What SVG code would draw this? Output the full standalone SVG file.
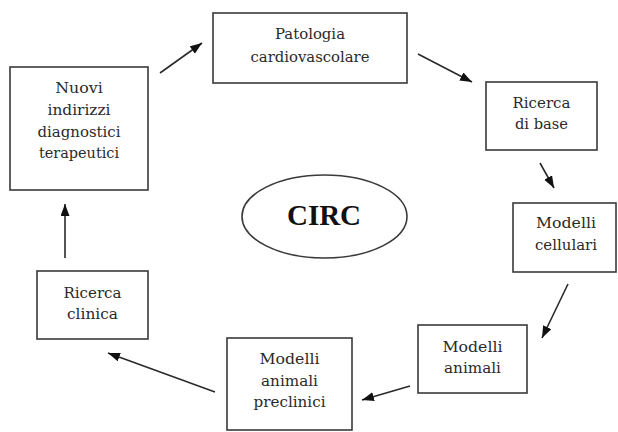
<svg xmlns="http://www.w3.org/2000/svg" width="618" height="432" viewBox="0 0 618 432">
<style>
.box{fill:#fff;stroke:#3a3a3a;stroke-width:1.6}
.c{stroke:#2a2a2a;stroke-width:1.6;fill:none;marker-end:url(#ah)}
</style>
<defs>
<marker id="ah" markerUnits="userSpaceOnUse" markerWidth="13" markerHeight="10" refX="12" refY="4.5" orient="auto">
<path d="M0,0 L12,4.5 L0,9 z" fill="#111"/>
</marker>
</defs>
<rect width="618" height="432" fill="#fff"/>
<g font-family="'DejaVu Serif', 'Liberation Serif', serif" font-size="15" fill="#2a2a2a" text-anchor="middle">
<g id="patologia">
<rect class="box" x="213" y="13" width="194" height="70"/>
<text x="310" y="39" textLength="70" lengthAdjust="spacingAndGlyphs">Patologia</text>
<text x="310" y="62" textLength="119" lengthAdjust="spacingAndGlyphs">cardiovascolare</text>
</g>
<g id="ricerca-base">
<rect class="box" x="486" y="82" width="111" height="68"/>
<text x="541.5" y="108" textLength="58" lengthAdjust="spacingAndGlyphs">Ricerca</text>
<text x="541.5" y="129" textLength="53" lengthAdjust="spacingAndGlyphs">di base</text>
</g>
<g id="modelli-cellulari">
<rect class="box" x="513" y="203" width="103" height="69"/>
<text x="566" y="228" textLength="60" lengthAdjust="spacingAndGlyphs">Modelli</text>
<text x="566" y="250" textLength="62" lengthAdjust="spacingAndGlyphs">cellulari</text>
</g>
<g id="modelli-animali">
<rect class="box" x="418" y="325" width="109" height="68"/>
<text x="472.5" y="352" textLength="60" lengthAdjust="spacingAndGlyphs">Modelli</text>
<text x="472.5" y="373" textLength="57" lengthAdjust="spacingAndGlyphs">animali</text>
</g>
<g id="modelli-preclinici">
<rect class="box" x="227" y="338" width="125" height="92"/>
<text x="289.5" y="364" textLength="60" lengthAdjust="spacingAndGlyphs">Modelli</text>
<text x="289.5" y="386" textLength="57" lengthAdjust="spacingAndGlyphs">animali</text>
<text x="289.5" y="407" textLength="72" lengthAdjust="spacingAndGlyphs">preclinici</text>
</g>
<g id="ricerca-clinica">
<rect class="box" x="37" y="271" width="111" height="68"/>
<text x="92.5" y="298" textLength="58" lengthAdjust="spacingAndGlyphs">Ricerca</text>
<text x="92.5" y="319" textLength="51" lengthAdjust="spacingAndGlyphs">clinica</text>
</g>
<g id="nuovi-indirizzi">
<rect class="box" x="10" y="67" width="138" height="123"/>
<text x="79" y="93" textLength="47.5" lengthAdjust="spacingAndGlyphs">Nuovi</text>
<text x="79" y="115" textLength="63" lengthAdjust="spacingAndGlyphs">indirizzi</text>
<text x="79" y="137" textLength="83" lengthAdjust="spacingAndGlyphs">diagnostici</text>
<text x="79" y="158" textLength="80" lengthAdjust="spacingAndGlyphs">terapeutici</text>
</g>
<g id="circ">
<ellipse cx="324.5" cy="216.5" rx="82.5" ry="41.5" fill="#fff" stroke="#3a3a3a" stroke-width="1.6"/>
<text x="324" y="225" font-family="'Liberation Serif', 'DejaVu Serif', serif" font-size="29" font-weight="bold" fill="#111">CIRC</text>
</g>
</g>
<g id="connectors">
<line class="c" x1="160" y1="73" x2="202" y2="43"/>
<line class="c" x1="418" y1="54" x2="472" y2="82"/>
<line class="c" x1="540" y1="163" x2="554" y2="188"/>
<line class="c" x1="568" y1="284" x2="542" y2="338"/>
<line class="c" x1="410" y1="386" x2="362" y2="400"/>
<line class="c" x1="215" y1="392" x2="108" y2="353"/>
<line class="c" x1="65" y1="258" x2="65" y2="204"/>
</g>
</svg>
